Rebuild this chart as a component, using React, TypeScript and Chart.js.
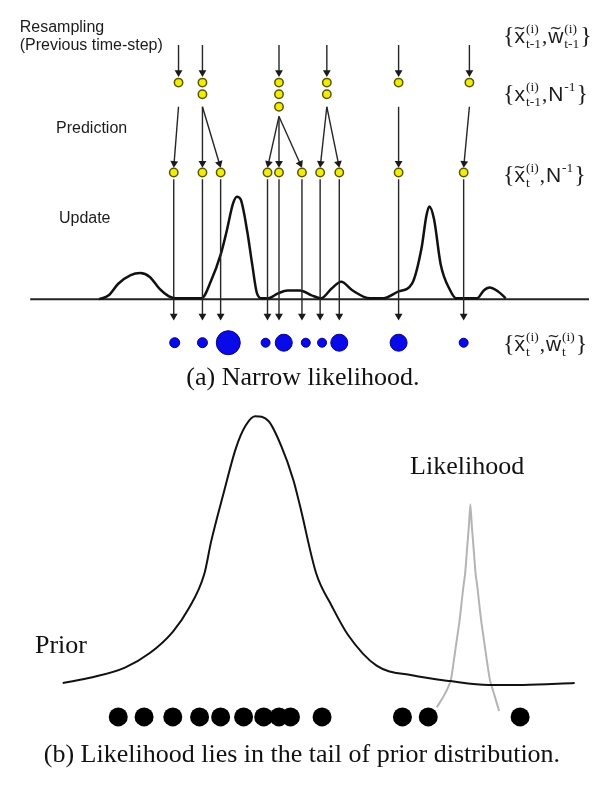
import React, { useEffect, useRef } from "react";
import { Chart, registerables } from "chart.js";
Chart.register(...registerables);

const W = 602;
const H = 785;

// ---------------- Panel (a): particle filter, narrow likelihood ----------------
const stageNames = ["Resampling", "(Previous time-step)", "Prediction", "Update"];
const stageX = [7, 7, 45, 48];
const stageY = [15, 34, 120, 213];

// posterior density drawn over the state axis
const densityX = [90, 100, 110, 123, 133, 143, 153, 163, 170, 197, 207, 217, 223, 230, 234, 238, 245, 250, 255, 260, 267, 277, 287, 300, 312, 322, 333, 343, 355, 373, 387, 403, 417, 427, 432, 435, 440, 447, 457, 463, 485, 492, 498, 507, 515];
const densityY = [296, 292, 280, 271, 269, 273, 285, 293, 295, 295, 277, 250, 227, 197, 190, 193, 227, 260, 290, 295, 295, 290, 287, 287, 292, 295, 285, 278, 287, 295, 295, 288, 280, 243, 210, 200, 213, 260, 287, 295, 295, 287, 284, 288, 295];
const axisX = [18, 602];
const axisY = [296, 296];

// resampled particles of previous step
const resampleX = [173, 198, 278, 328, 403, 477];
const prevParticleX = [173, 198, 198, 278, 278, 278, 328, 328, 403, 477];
const prevParticleY = [72, 72, 84, 72, 84, 97, 72, 84, 72, 72];

// prediction: parent -> child
const predFromX = [173, 198, 198, 278, 278, 278, 328, 328, 403, 477];
const predFromY = [97, 97, 97, 107, 107, 107, 97, 97, 97, 97];
const predX = [168, 198, 217, 266, 278, 302, 321, 341, 403, 471];
const predRowY = 165;

// updated weights
const weightX = [169, 198, 225, 264, 283, 306, 323, 341, 403, 471];
const weightR = [5, 5, 12, 4.5, 8.5, 4.5, 4.5, 8.5, 8.5, 4.5];
const weightRowY = 341;

type Atom = { b: string; tilde?: boolean; sup?: string; sub?: string };
const setLabels: Atom[][] = [
  [{ b: "{" }, { b: "x", tilde: true, sup: "(i)", sub: "t-1" }, { b: "," }, { b: "w", tilde: true, sup: "(i)", sub: "t-1" }, { b: "}" }],
  [{ b: "{" }, { b: "x", sup: "(i)", sub: "t-1" }, { b: "," }, { b: "N", sup: "-1" }, { b: "}" }],
  [{ b: "{" }, { b: "x", tilde: true, sup: "(i)", sub: "t" }, { b: "," }, { b: "N", sup: "-1" }, { b: "}" }],
  [{ b: "{" }, { b: "x", tilde: true, sup: "(i)", sub: "t" }, { b: "," }, { b: "w", tilde: true, sup: "(i)", sub: "t" }, { b: "}" }],
];
const setLabelX = [512, 512, 512, 512];
const setLabelY = [31, 91, 175, 350];

// ---------------- Panel (b): likelihood in prior tail ----------------
const priorX = [52, 83, 117, 143, 167, 183, 200, 207, 220, 233, 243, 253, 267, 280, 293, 300, 317, 333, 350, 380, 417, 457, 497, 533, 587];
const priorY = [693, 687, 677, 662, 640, 617, 580, 547, 497, 450, 427, 417, 422, 447, 483, 510, 580, 613, 643, 675, 685, 691, 695, 695, 693];
const likeX = [443, 451, 457.5, 461, 464, 466.5, 468.5, 470.5, 472.5, 474.5, 476.5, 478, 479.5, 481.5, 483.5, 485.5, 487.5, 489.5, 492, 495, 498.5, 503, 508];
const likeY = [718, 705, 690, 668, 647, 630, 613, 595, 580, 555, 530, 508, 530, 555, 580, 595, 613, 630, 647, 668, 690, 705, 722];
const sampleX = [110, 137, 167, 195, 217, 241, 262, 278, 290, 323, 407, 434, 530];
const sampleRowY = 728;

const curveNames = ["Prior", "Likelihood"];
const curveNameX = [23, 415];
const curveNameY = [655, 470];

const captions = ["(a) Narrow likelihood.", "(b) Likelihood lies in the tail of prior distribution."];
const captionX = [303, 302];
const captionY = [378, 768];

// arrows [x1, y1, x2, y2]
type Seg = [number, number, number, number];
const arrowSegs: Seg[] = [
  ...resampleX.map((x) => [x, 33, x, 66] as Seg),
  ...predFromX.map((x, i) => [x, predFromY[i], predX[i], predRowY - 5] as Seg),
  ...predX.map((x) => [x, predRowY + 7, x, 318] as Seg),
];

const HEAD_R = 4.5;

function pts(xs: number[], ys: number[]) {
  return xs.map((x, i) => ({ x, y: ys[i] }));
}

function lineDs(xs: number[], ys: number[], color: string, width: number, order: number, mode: "mono" | "soft" | "none") {
  return {
    data: pts(xs, ys),
    showLine: true,
    borderColor: color,
    borderWidth: width,
    pointRadius: 0,
    pointHoverRadius: 0,
    tension: mode === "none" ? 0 : mode === "soft" ? 0.2 : 0.4,
    cubicInterpolationMode: mode === "mono" ? "monotone" : "default",
    fill: false,
    order,
  };
}

function drawAtoms(ctx: CanvasRenderingContext2D, atoms: Atom[], x0: number, yb: number) {
  let x = x0;
  ctx.textAlign = "left";
  ctx.textBaseline = "alphabetic";
  for (const a of atoms) {
    const brace = a.b === "{" || a.b === "}";
    if (brace) ctx.font = "24px 'Liberation Serif'";
    else if (a.b === ",") ctx.font = "21px 'Liberation Serif'";
    else ctx.font = "21px 'Liberation Sans'";
    ctx.fillText(a.b, x, yb);
    const bw = ctx.measureText(a.b).width;
    if (a.tilde) {
      ctx.font = "15px 'DejaVu Sans'";
      const tw = ctx.measureText("~").width;
      ctx.fillText("~", x + (bw - tw) / 2, yb - 10);
    }
    x += bw;
    let sw = 0;
    ctx.font = "13.5px 'Liberation Serif'";
    if (a.sup) {
      ctx.fillText(a.sup, x + 1, yb - 10);
      sw = Math.max(sw, ctx.measureText(a.sup).width);
    }
    if (a.sub) {
      ctx.fillText(a.sub, x + 1, yb + 5);
      sw = Math.max(sw, ctx.measureText(a.sub).width);
    }
    if (sw) x += sw + 2;
    if (a.b === ",") x += 1;
  }
}

const textPlugin = {
  id: "diagramText",
  afterDatasetsDraw(chart: any) {
    const ctx: CanvasRenderingContext2D = chart.ctx;
    const sx = chart.scales.x;
    const sy = chart.scales.y;
    ctx.save();
    ctx.fillStyle = "#1c1c1c";
    ctx.font = "16px 'Liberation Sans'";
    ctx.textAlign = "left";
    ctx.textBaseline = "middle";
    stageNames.forEach((t, i) => ctx.fillText(t, sx.getPixelForValue(stageX[i]), sy.getPixelForValue(stageY[i])));

    setLabels.forEach((atoms, i) =>
      drawAtoms(ctx, atoms, sx.getPixelForValue(setLabelX[i]), sy.getPixelForValue(setLabelY[i]))
    );

    ctx.fillStyle = "#111";
    ctx.font = "26px 'Liberation Serif'";
    ctx.textBaseline = "middle";
    ctx.textAlign = "left";
    curveNames.forEach((t, i) => ctx.fillText(t, sx.getPixelForValue(curveNameX[i]), sy.getPixelForValue(curveNameY[i])));
    ctx.textAlign = "center";
    captions.forEach((t, i) => ctx.fillText(t, sx.getPixelForValue(captionX[i]), sy.getPixelForValue(captionY[i])));
    ctx.restore();
  },
};

export default function App() {
  const ref = useRef<HTMLCanvasElement | null>(null);
  useEffect(() => {
    if (!ref.current) return;
    const heads = arrowSegs.map(([x1, y1, x2, y2]) => {
      const len = Math.hypot(x2 - x1, y2 - y1);
      const ux = (x2 - x1) / len;
      const uy = (y2 - y1) / len;
      return { x: x2 - ux * HEAD_R, y: y2 - uy * HEAD_R, rot: (Math.atan2(ux, -uy) * 180) / Math.PI };
    });
    const arrowDs = arrowSegs.map(([x1, y1], i) => ({
      data: [{ x: x1, y: y1 }, { x: heads[i].x, y: heads[i].y }],
      showLine: true,
      borderColor: "#262626",
      borderWidth: 1.4,
      pointRadius: 0,
      pointHoverRadius: 0,
      order: 3,
    }));

    const chart = new Chart(ref.current, {
      type: "scatter",
      data: {
        datasets: [
          {
            data: weightX.map((x) => ({ x, y: weightRowY })),
            pointRadius: weightR,
            pointHoverRadius: weightR,
            backgroundColor: "#0a0ae8",
            borderColor: "#00008a",
            borderWidth: 1,
            order: 0,
          },
          {
            data: pts(prevParticleX, prevParticleY),
            pointRadius: 4.2,
            backgroundColor: "#f0ec10",
            borderColor: "#5a5600",
            borderWidth: 1.5,
            order: 0,
          },
          {
            data: predX.map((x) => ({ x, y: predRowY })),
            pointRadius: 4.2,
            backgroundColor: "#f0ec10",
            borderColor: "#5a5600",
            borderWidth: 1.5,
            order: 0,
          },
          {
            data: sampleX.map((x) => ({ x, y: sampleRowY })),
            pointRadius: 9.5,
            backgroundColor: "#000",
            borderColor: "#000",
            borderWidth: 0,
            order: 0,
          },
          {
            data: heads.map((h) => ({ x: h.x, y: h.y })),
            pointStyle: "triangle",
            pointRadius: HEAD_R,
            rotation: heads.map((h) => h.rot),
            backgroundColor: "#1a1a1a",
            borderColor: "#1a1a1a",
            borderWidth: 0,
            order: 1,
          },
          ...arrowDs,
          lineDs(densityX, densityY, "#111", 2.5, 4, "mono"),
          lineDs(axisX, axisY, "#222", 2, 5, "none"),
          lineDs(priorX, priorY, "#111", 2, 4, "mono"),
          lineDs(likeX, likeY, "#b4b4b4", 2, 4, "soft"),
        ] as any,
      },
      options: {
        responsive: false,
        animation: false,
        devicePixelRatio: 1,
        layout: { padding: 0 },
        events: [],
        plugins: { legend: { display: false }, tooltip: { enabled: false }, title: { display: false } },
        scales: {
          x: { type: "linear", min: 0, max: W, display: false },
          y: { type: "linear", min: 0, max: H, reverse: true, display: false },
        },
      },
      plugins: [textPlugin],
    });
    return () => chart.destroy();
  }, []);

  return (
    <div style={{ position: "absolute", left: 0, top: 0, width: W, height: H, background: "#fff" }}>
      <canvas ref={ref} width={W} height={H} />
    </div>
  );
}
